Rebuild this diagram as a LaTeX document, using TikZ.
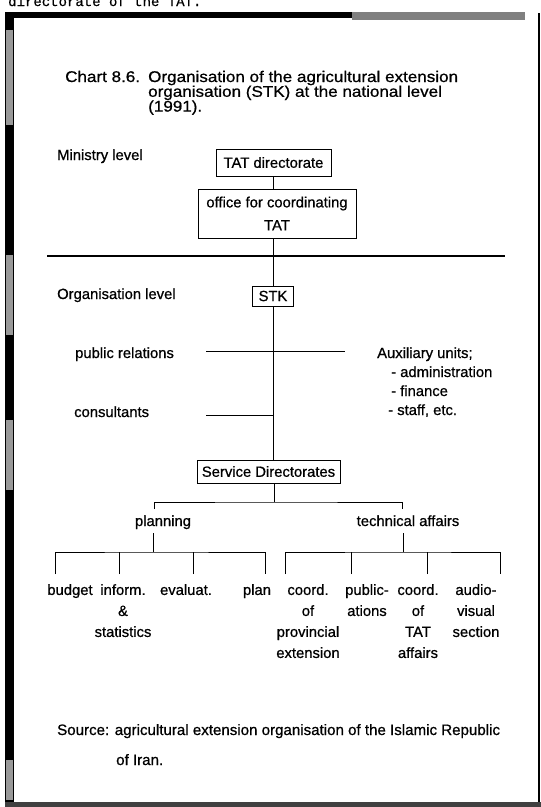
\documentclass[tikz,border=0pt]{standalone}
\usepackage{fontspec}
\setmainfont[FakeBold=0.7]{Liberation Sans}
\newfontfamily\titlefont[FakeBold=0.7,FakeStretch=1.1]{Liberation Sans}
\newfontfamily\typefont[FakeBold=0.5]{Liberation Mono}
\begin{document}
\begin{tikzpicture}[x=1pt,y=-1pt,
  txt/.style={inner sep=0pt, font=\fontsize{14.8}{21}\selectfont},
  ttl/.style={inner sep=0pt, anchor=base west, font=\titlefont\fontsize{15.5}{14}\selectfont},
  unitbox/.style={txt, draw, line width=0.9pt, align=center},
  link/.style={line width=0.8pt},
  col/.style={txt, anchor=north, align=center},
  speckle/.style={fill=black!40}
]
\useasboundingbox (0,0) rectangle (541,807);
\fill[white] (0,0) rectangle (541,807);

% running text of the page, cut by the page edge
\begin{scope}
  \clip (0,0) rectangle (541,807);
  \node[inner sep=0pt, anchor=base west, font=\typefont\fontsize{14}{14}\selectfont] (runhead) at (8,6) {directorate of the TAT.};
\end{scope}

% frame of the chart
\fill (5,12) rectangle (352,18);
\fill[black!50] (352,12) rectangle (525,20);
\fill (5,12) rectangle (14,807);
\fill[speckle] (6,30) rectangle (13,125);
\fill[speckle] (6,255) rectangle (13,335);
\fill[speckle] (6,420) rectangle (13,490);
\fill[speckle] (6,760) rectangle (13,800);
\draw[line width=1.6pt] (539,13) -- (539,807);
\fill[black!75] (5,802) rectangle (541,807);

% title
\node[ttl] (chartno) at (65,82) {Chart 8.6.};
\node[ttl] (title1) at (148,82) {Organisation of the agricultural extension};
\node[ttl] (title2) at (148,96.8) {organisation (STK) at the national level};
\node[ttl] (title3) at (148,111.6) {(1991).};

% ministry level
\node[txt, anchor=base west] (ministry) at (57,160) {Ministry level};
\node[unitbox, minimum width=115pt, minimum height=27pt] (tatdir) at (273.5,162.5) {TAT directorate};
\node[unitbox, minimum width=158pt, minimum height=49pt, font=\fontsize{14.8}{23}\selectfont] (office) at (277,213.5) {office for coordinating\\TAT};

\coordinate (sepL) at (47,256);
\coordinate (sepR) at (505,256);
\draw[line width=1.3pt] (sepL) -- (sepR);

% organisation level
\node[txt, anchor=base west] (orglevel) at (57,299) {Organisation level};
\node[unitbox, minimum width=41pt, minimum height=20pt] (stk) at (273,296) {STK};

\node[txt, anchor=base west] (pr) at (75,358) {public relations};
\coordinate (prL) at (206,351);
\coordinate (prR) at (345,351);
\node[txt, anchor=base west] (aux) at (377,358) {Auxiliary units;};
\node[txt, anchor=base west] (auxadm) at (391,377) {- administration};
\node[txt, anchor=base west] (auxfin) at (391,396) {- finance};
\node[txt, anchor=base west] (auxstaff) at (388,415) {- staff, etc.};
\node[txt, anchor=base west] (cons) at (74,417) {consultants};
\coordinate (conL) at (206,415);

\node[unitbox, minimum width=143pt, minimum height=23pt] (sd) at (268.5,471.5) {Service Directorates};

% second and third tiers
\coordinate (brA) at (274,502);
\coordinate (pTop) at (154,509);
\coordinate (tTop) at (402,509);
\node[txt, anchor=base] (planning) at (163,526) {planning};
\node[txt, anchor=base] (techaff) at (408,526) {technical affairs};

\coordinate (pBot) at (153,533);
\coordinate (pMid) at (153,552);
\coordinate (tBot) at (403,533);
\coordinate (tMid) at (403,552);
\coordinate (dBudget) at (55,574);
\coordinate (dInform) at (119,574);
\coordinate (dEval) at (193,574);
\coordinate (dPlan) at (265,574);
\coordinate (dCoordA) at (285,574);
\coordinate (dPubl) at (351,574);
\coordinate (dCoordB) at (427,574);
\coordinate (dAudio) at (500,574);

\node[col] (budget) at (70,584) {budget};
\node[col] (inform) at (123,584) {inform.\\\&\\statistics};
\node[col] (evaluat) at (186,584) {evaluat.};
\node[col] (plan) at (257,584) {plan};
\node[col] (coordprov) at (308,584) {coord.\\of\\provincial\\extension};
\node[col] (publ) at (367,584) {public-\\ations};
\node[col] (coordtat) at (418,584) {coord.\\of\\TAT\\affairs};
\node[col] (audio) at (476,584) {audio-\\visual\\section};

% connectors
\draw[link] (tatdir.south) -- (tatdir.south |- office.north);
\draw[link] (stk.north) -- (stk.north |- office.south);
\draw[link] (stk.south) -- (stk.south |- sd.north);
\draw[link] (prL) -- (prR);
\draw[link] (conL) -- (conL -| stk);
\draw[link] (sd.south -| brA) -- (brA);
\draw[link] (pTop) |- (brA) -| (tTop);
\draw[link] (pBot) -- (pMid);
\draw[link] (dBudget) |- (pMid) -| (dPlan);
\draw[link] (dInform) -- (dInform |- pMid);
\draw[link] (dEval) -- (dEval |- pMid);
\draw[link] (tBot) -- (tMid);
\draw[link] (dCoordA) |- (tMid) -| (dAudio);
\draw[link] (dPubl) -- (dPubl |- tMid);
\draw[link] (dCoordB) -- (dCoordB |- tMid);

% source
\node[txt, anchor=base west, font=\fontsize{15.1}{18}\selectfont] (src1) at (57,735) {Source: agricultural extension organisation of the Islamic Republic};
\node[txt, anchor=base west, font=\fontsize{15.1}{18}\selectfont] (src2) at (116,765) {of Iran.};
\end{tikzpicture}
\end{document}
